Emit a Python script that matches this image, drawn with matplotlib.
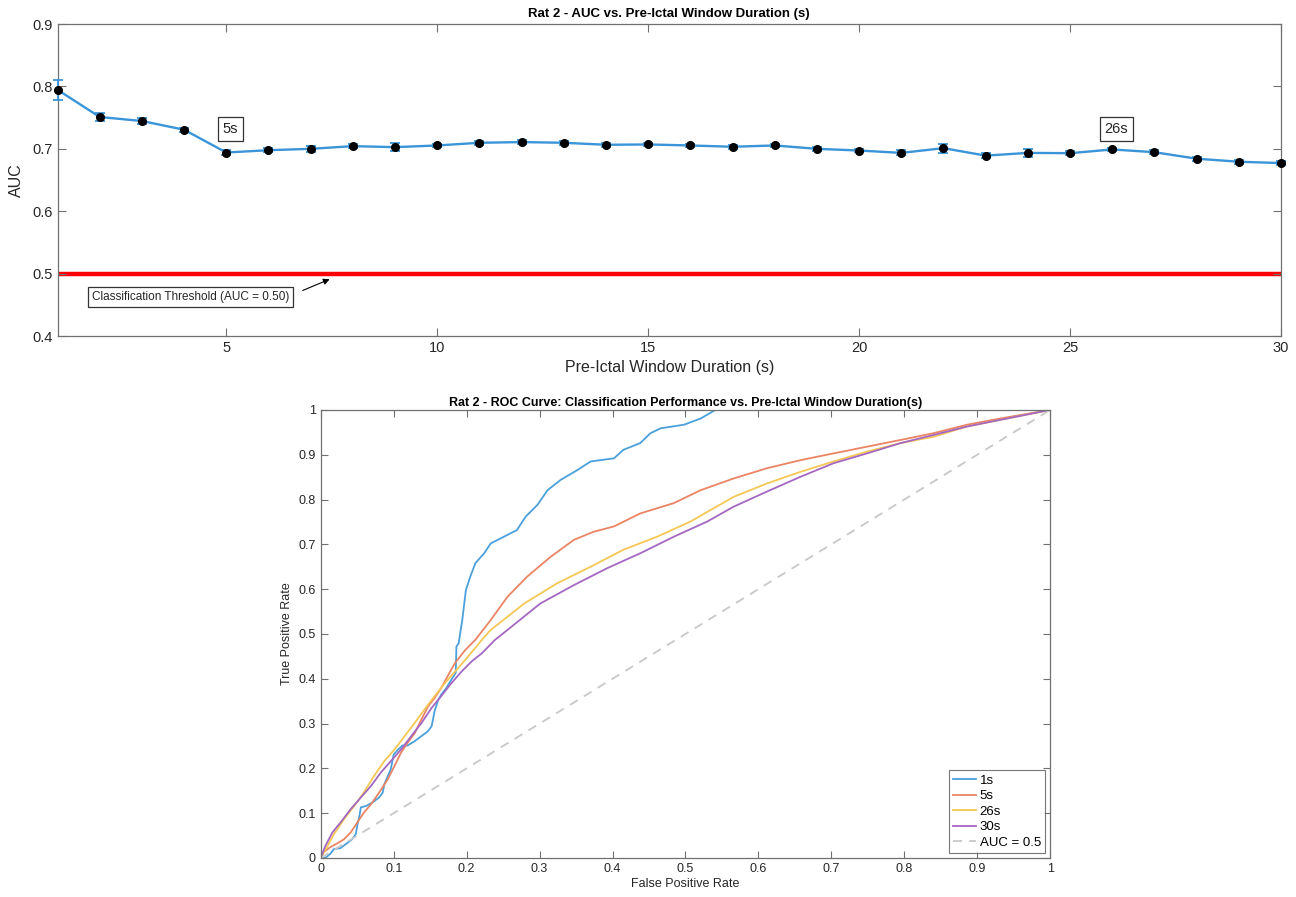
import numpy as np
import matplotlib.pyplot as plt
from matplotlib.ticker import FuncFormatter

plt.rcParams['font.family'] = ['Liberation Sans', 'DejaVu Sans']

# AUC per pre-ictal window length (mean and spread)
durations = list(range(1, 31))
auc_mean = [0.7946, 0.751, 0.7446, 0.7306, 0.6941, 0.6978, 0.700, 0.7043, 0.7027, 0.7054,
            0.7097, 0.7108, 0.7097, 0.7065, 0.7070, 0.7054, 0.7033, 0.7054, 0.7000, 0.6973,
            0.6935, 0.7011, 0.6891, 0.6935, 0.6930, 0.6990, 0.6946, 0.6842, 0.6793, 0.6772]
auc_err = [0.016, 0.007, 0.005, 0.003, 0.004, 0.003, 0.005, 0.003, 0.006, 0.003,
           0.003, 0.003, 0.003, 0.003, 0.003, 0.003, 0.003, 0.003, 0.003, 0.003,
           0.004, 0.007, 0.004, 0.006, 0.003, 0.003, 0.003, 0.003, 0.003, 0.003]
threshold = 0.5
marked = [5, 26]

# ROC curves for selected windows
fpr_1s = [0, 0.006, 0.013, 0.018, 0.027, 0.036, 0.043, 0.048, 0.050, 0.053, 0.055, 0.062,
          0.071, 0.080, 0.085, 0.087, 0.092, 0.096, 0.100, 0.106, 0.112, 0.119, 0.129, 0.138,
          0.147, 0.152, 0.156, 0.161, 0.165, 0.172, 0.179, 0.185, 0.186, 0.189, 0.194, 0.199,
          0.205, 0.212, 0.224, 0.233, 0.251, 0.269, 0.281, 0.297, 0.311, 0.329, 0.352, 0.370,
          0.384, 0.402, 0.415, 0.438, 0.452, 0.466, 0.498, 0.521, 0.541, 1.0]
tpr_1s = [0, 0.0, 0.009, 0.02, 0.022, 0.033, 0.042, 0.053, 0.072, 0.094, 0.113, 0.116,
          0.124, 0.135, 0.146, 0.164, 0.183, 0.198, 0.231, 0.242, 0.251, 0.251, 0.261, 0.272,
          0.283, 0.294, 0.327, 0.353, 0.364, 0.379, 0.398, 0.413, 0.472, 0.479, 0.531, 0.598,
          0.628, 0.658, 0.680, 0.702, 0.717, 0.732, 0.762, 0.788, 0.821, 0.844, 0.866, 0.885,
          0.888, 0.892, 0.911, 0.926, 0.948, 0.959, 0.967, 0.981, 1.0, 1.0]

fpr_5s = [0, 0.004, 0.013, 0.023, 0.032, 0.041, 0.050, 0.059, 0.069, 0.080, 0.092, 0.101,
          0.110, 0.119, 0.129, 0.138, 0.147, 0.156, 0.165, 0.175, 0.184, 0.198, 0.212, 0.233,
          0.256, 0.283, 0.315, 0.347, 0.374, 0.402, 0.438, 0.484, 0.521, 0.566, 0.612, 0.658,
          0.703, 0.749, 0.795, 0.840, 0.886, 0.932, 1.0]
tpr_5s = [0, 0.013, 0.024, 0.033, 0.042, 0.057, 0.079, 0.101, 0.120, 0.146, 0.176, 0.205,
          0.235, 0.257, 0.279, 0.309, 0.338, 0.357, 0.379, 0.409, 0.435, 0.464, 0.487, 0.531,
          0.583, 0.628, 0.672, 0.710, 0.728, 0.740, 0.769, 0.792, 0.821, 0.847, 0.870, 0.888,
          0.903, 0.918, 0.933, 0.948, 0.967, 0.981, 1.0]

fpr_26s = [0, 0.009, 0.018, 0.032, 0.046, 0.059, 0.073, 0.087, 0.101, 0.115, 0.129, 0.142,
           0.156, 0.170, 0.184, 0.198, 0.221, 0.233, 0.279, 0.324, 0.370, 0.415, 0.461, 0.507,
           0.566, 0.612, 0.658, 0.703, 0.749, 0.795, 0.840, 0.886, 0.932, 1.0]
tpr_26s = [0, 0.026, 0.053, 0.087, 0.116, 0.146, 0.183, 0.216, 0.242, 0.272, 0.302, 0.331,
           0.361, 0.390, 0.416, 0.442, 0.487, 0.509, 0.568, 0.613, 0.650, 0.688, 0.717, 0.751,
           0.806, 0.836, 0.862, 0.885, 0.907, 0.926, 0.940, 0.963, 0.978, 1.0]

fpr_30s = [0, 0.006, 0.016, 0.027, 0.041, 0.055, 0.069, 0.082, 0.096, 0.110, 0.124, 0.138,
           0.152, 0.165, 0.179, 0.193, 0.207, 0.221, 0.239, 0.256, 0.301, 0.347, 0.393, 0.438,
           0.484, 0.530, 0.566, 0.612, 0.658, 0.703, 0.749, 0.795, 0.840, 0.886, 0.932, 1.0]
tpr_30s = [0, 0.026, 0.057, 0.079, 0.109, 0.135, 0.161, 0.190, 0.216, 0.242, 0.272, 0.301,
           0.335, 0.361, 0.390, 0.416, 0.439, 0.457, 0.487, 0.509, 0.568, 0.609, 0.647, 0.680,
           0.717, 0.751, 0.784, 0.818, 0.851, 0.881, 0.903, 0.926, 0.944, 0.963, 0.978, 1.0]

roc_labels = ['1s', '5s', '26s', '30s']
roc_fpr = [fpr_1s, fpr_5s, fpr_26s, fpr_30s]
roc_tpr = [tpr_1s, tpr_5s, tpr_26s, tpr_30s]
roc_colors = ['#4aa0dc', '#ea8463', '#f5c754', '#a467c2']

axis_gray = '#707070'
text_gray = '#262626'
fmt = FuncFormatter(lambda v, p: '%g' % round(v, 2))


def style_axes(ax):
    for s in ax.spines.values():
        s.set_color(axis_gray)
        s.set_linewidth(0.9)
    ax.tick_params(direction='in', top=True, right=True, length=5, width=0.8,
                   color=axis_gray, labelcolor=text_gray)


fig = plt.figure(figsize=(12.96, 8.97), dpi=100)

# --- AUC vs window duration ---
ax1 = fig.add_axes([0.0444, 0.6254, 0.9440, 0.3478])
ax1.axhline(threshold, color='#ff0000', lw=3.2, zorder=1)
ebar = ax1.errorbar(durations, auc_mean, yerr=auc_err, color='#3a95d8', lw=1.7,
                    capsize=3.5, capthick=1.3, elinewidth=1.3, marker='o', ms=5.5,
                    mfc='black', mec='black', zorder=3)
for artist in ebar.lines[0:1] + ebar.lines[1] + ebar.lines[2]:
    artist.set_clip_on(False)
for d in marked:
    ax1.text(d + 0.1, 0.732, '%ds' % d, ha='center', va='center', fontsize=10.5,
             color=text_gray,
             bbox=dict(boxstyle='square,pad=0.35', fc='white', ec='#333333', lw=0.9))
ax1.annotate('Classification Threshold (AUC = 0.50)', xy=(7.45, 0.491), xytext=(4.15, 0.462),
             ha='center', va='center', fontsize=8.5, color=text_gray,
             bbox=dict(boxstyle='square,pad=0.35', fc='white', ec='#333333', lw=0.9),
             arrowprops=dict(arrowstyle='-|>', color='black', lw=0.8, mutation_scale=9,
                             shrinkA=7, shrinkB=0, relpos=(1, 0.6)))
ax1.set_xlim(1, 30)
ax1.set_ylim(0.4, 0.9)
ax1.set_xticks([5, 10, 15, 20, 25, 30])
ax1.set_yticks(np.arange(0.4, 0.91, 0.1))
ax1.yaxis.set_major_formatter(fmt)
style_axes(ax1)
ax1.tick_params(labelsize=10.5, length=6)
ax1.set_xlabel('Pre-Ictal Window Duration (s)', fontsize=11.5, color=text_gray, labelpad=4)
ax1.set_ylabel('AUC', fontsize=11.5, color=text_gray, labelpad=6)
ax1.set_title('Rat 2 - AUC vs. Pre-Ictal Window Duration (s)', fontsize=9.5,
              fontweight='bold', pad=5)

# --- ROC curves ---
ax2 = fig.add_axes([0.2475, 0.0435, 0.5628, 0.4995])
for f, t, lab, c in zip(roc_fpr, roc_tpr, roc_labels, roc_colors):
    ax2.plot(f, t, color=c, lw=1.3, label=lab)
ax2.plot([0, 1], [0, 1], color='#c8c8c8', lw=1.3, ls=(0, (5, 4)), label='AUC = 0.5')
ax2.set_xlim(0, 1)
ax2.set_ylim(0, 1)
ax2.set_xticks(np.arange(0, 1.01, 0.1))
ax2.set_yticks(np.arange(0, 1.01, 0.1))
ax2.xaxis.set_major_formatter(fmt)
ax2.yaxis.set_major_formatter(fmt)
style_axes(ax2)
ax2.tick_params(labelsize=9)
ax2.set_xlabel('False Positive Rate', fontsize=9, color=text_gray, labelpad=2)
ax2.set_ylabel('True Positive Rate', fontsize=9, color=text_gray, labelpad=4)
ax2.set_title('Rat 2 - ROC Curve: Classification Performance vs. Pre-Ictal Window Duration(s)',
              fontsize=9, fontweight='bold', pad=3)
leg = ax2.legend(loc='lower right', fontsize=9.5, frameon=True, fancybox=False,
                 edgecolor='#555555', handlelength=1.7, handletextpad=0.3,
                 borderpad=0.3, labelspacing=0.25, borderaxespad=0.4)
leg.get_frame().set_linewidth(0.8)

fig.savefig('out.png', dpi=100)
